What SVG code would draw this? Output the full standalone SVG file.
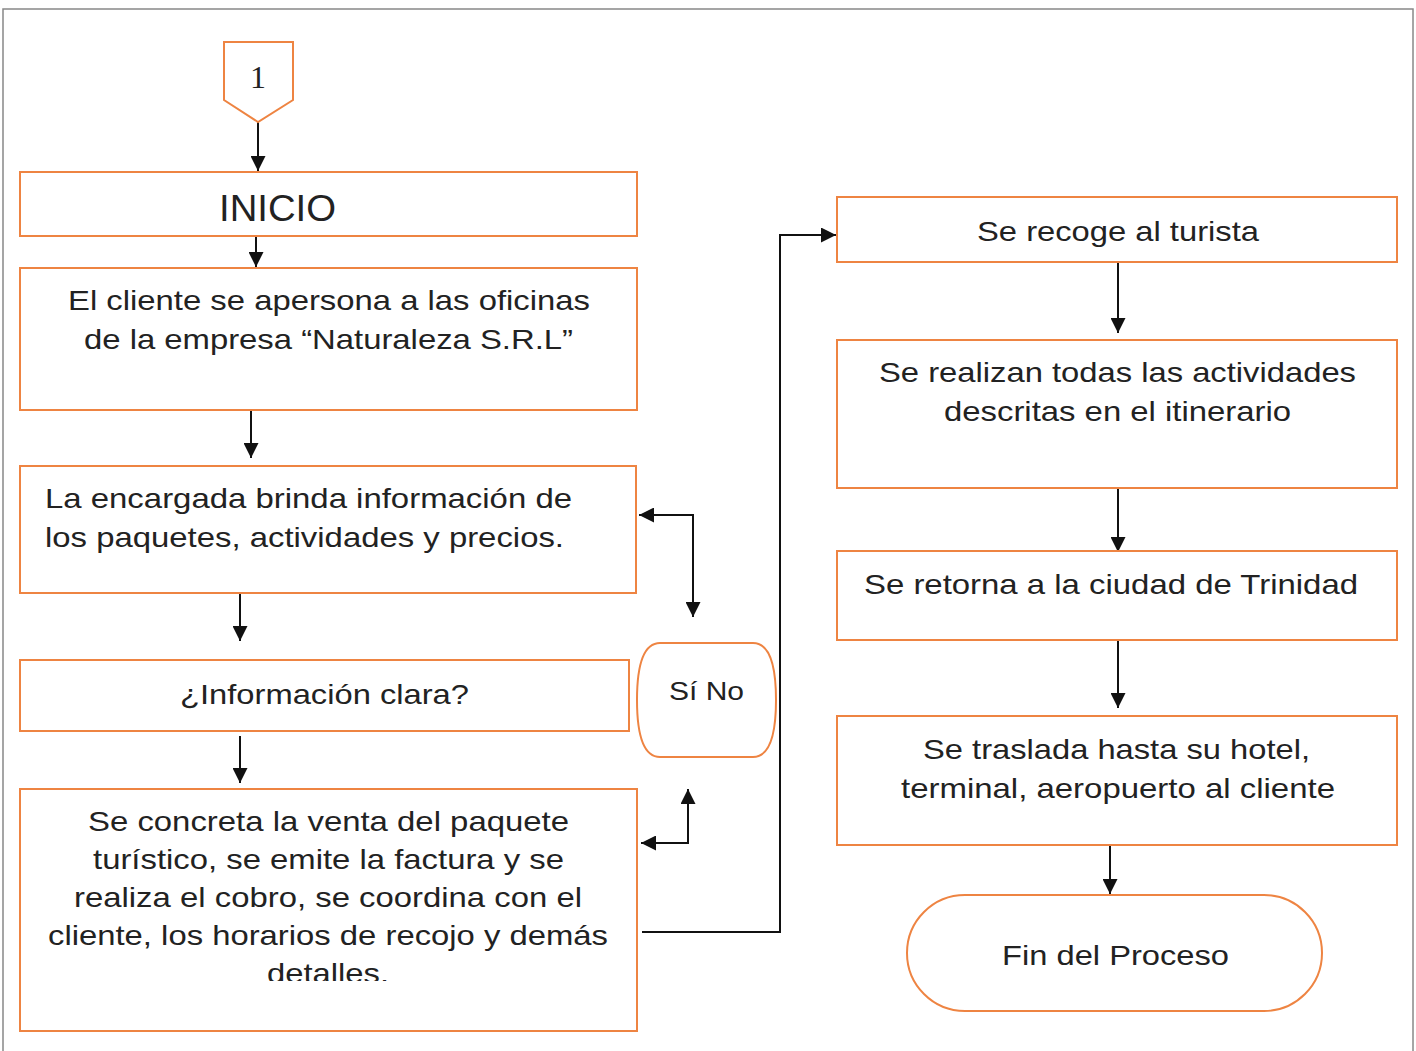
<svg xmlns="http://www.w3.org/2000/svg" width="1416" height="1051" viewBox="0 0 1416 1051">
<defs>
<marker id="ah" viewBox="0 0 10 10" refX="10" refY="5" markerWidth="15" markerHeight="15" markerUnits="userSpaceOnUse" orient="auto-start-reverse">
<path d="M0,0 L10,5 L0,10 Z" fill="#111"/>
</marker>
<clipPath id="clip5"><rect x="20" y="789" width="617" height="192"/></clipPath>
</defs>
<style>
.box{fill:#fff;stroke:#EE8442;stroke-width:2}
.t{font-family:"Liberation Sans",Arial,sans-serif;font-size:28px;fill:#222}
.c{text-anchor:middle}
.ln{fill:none;stroke:#111;stroke-width:2}
</style>
<rect x="0" y="0" width="1416" height="1051" fill="#fff"/>
<rect x="3" y="9" width="1410" height="1060" fill="none" stroke="#888" stroke-width="1.5"/>

<g id="connectors">
<line class="ln" x1="258" y1="122" x2="258" y2="171" marker-end="url(#ah)"/>
<line class="ln" x1="256" y1="236" x2="256" y2="267" marker-end="url(#ah)"/>
<line class="ln" x1="251" y1="410" x2="251" y2="458" marker-end="url(#ah)"/>
<line class="ln" x1="240" y1="593" x2="240" y2="641" marker-end="url(#ah)"/>
<line class="ln" x1="240" y1="736" x2="240" y2="783" marker-end="url(#ah)"/>
<polyline class="ln" points="639,515 693,515 693,617" marker-start="url(#ah)" marker-end="url(#ah)"/>
<polyline class="ln" points="641,843 688,843 688,789" marker-start="url(#ah)" marker-end="url(#ah)"/>
<polyline class="ln" points="642,932 780,932 780,235 836,235" marker-end="url(#ah)"/>
<line class="ln" x1="1118" y1="262" x2="1118" y2="333" marker-end="url(#ah)"/>
<line class="ln" x1="1118" y1="488" x2="1118" y2="552" marker-end="url(#ah)"/>
<line class="ln" x1="1118" y1="640" x2="1118" y2="708" marker-end="url(#ah)"/>
<line class="ln" x1="1110" y1="845" x2="1110" y2="894" marker-end="url(#ah)"/>
</g>

<g id="n1">
<path class="box" d="M224,42 L293,42 L293,100 L258,122 L224,100 Z"/>
<text x="258" y="88" text-anchor="middle" style="font-family:'Liberation Serif',serif;font-size:32px;fill:#222">1</text>
</g>
<g id="inicio">
<rect class="box" x="20" y="172" width="617" height="64"/>
<text class="t c" x="277.5" y="221" style="font-size:37px" textLength="117" lengthAdjust="spacingAndGlyphs">INICIO</text>
</g>
<g id="n2">
<rect class="box" x="20" y="268" width="617" height="142"/>
<text class="t c" x="329" y="310" textLength="522" lengthAdjust="spacingAndGlyphs">El cliente se apersona a las oficinas</text>
<text class="t c" x="328.5" y="349" textLength="489" lengthAdjust="spacingAndGlyphs">de la empresa “Naturaleza S.R.L”</text>
</g>
<g id="n3">
<rect class="box" x="20" y="466" width="616" height="127"/>
<text class="t" x="45" y="508" textLength="527" lengthAdjust="spacingAndGlyphs">La encargada brinda información de</text>
<text class="t" x="45" y="547" textLength="519" lengthAdjust="spacingAndGlyphs">los paquetes, actividades y precios.</text>
</g>
<g id="n4">
<rect class="box" x="20" y="660" width="609" height="71"/>
<text class="t c" x="324.5" y="704" textLength="289" lengthAdjust="spacingAndGlyphs">¿Información clara?</text>
</g>
<g id="n5">
<rect class="box" x="20" y="789" width="617" height="242"/>
<g clip-path="url(#clip5)">
<text class="t c" x="328.5" y="831" textLength="481" lengthAdjust="spacingAndGlyphs">Se concreta la venta del paquete</text>
<text class="t c" x="328.5" y="869" textLength="471" lengthAdjust="spacingAndGlyphs">turístico, se emite la factura y se</text>
<text class="t c" x="328" y="907" textLength="508" lengthAdjust="spacingAndGlyphs">realiza el cobro, se coordina con el</text>
<text class="t c" x="328" y="945" textLength="560" lengthAdjust="spacingAndGlyphs">cliente, los horarios de recojo y demás</text>
<text class="t c" x="328" y="983" textLength="122" lengthAdjust="spacingAndGlyphs">detalles.</text>
</g>
</g>
<g id="sino">
<path class="box" d="M660,643 L753,643 Q776,643 776,700 Q776,757 753,757 L660,757 Q637,757 637,700 Q637,643 660,643 Z"/>
<text class="t c" x="706.5" y="700" style="font-size:26px" textLength="75" lengthAdjust="spacingAndGlyphs">Sí No</text>
</g>
<g id="r1">
<rect class="box" x="837" y="197" width="560" height="65"/>
<text class="t c" x="1118" y="241" textLength="282" lengthAdjust="spacingAndGlyphs">Se recoge al turista</text>
</g>
<g id="r2">
<rect class="box" x="837" y="340" width="560" height="148"/>
<text class="t c" x="1117.5" y="382" textLength="477" lengthAdjust="spacingAndGlyphs">Se realizan todas las actividades</text>
<text class="t c" x="1117.5" y="421" textLength="347" lengthAdjust="spacingAndGlyphs">descritas en el itinerario</text>
</g>
<g id="r3">
<rect class="box" x="837" y="551" width="560" height="89"/>
<text class="t c" x="1111" y="594" textLength="494" lengthAdjust="spacingAndGlyphs">Se retorna a la ciudad de Trinidad</text>
</g>
<g id="r4">
<rect class="box" x="837" y="716" width="560" height="129"/>
<text class="t c" x="1116.5" y="759" textLength="387" lengthAdjust="spacingAndGlyphs">Se traslada hasta su hotel,</text>
<text class="t c" x="1118" y="798" textLength="434" lengthAdjust="spacingAndGlyphs">terminal, aeropuerto al cliente</text>
</g>
<g id="fin">
<rect class="box" x="907" y="895" width="415" height="116" rx="58" ry="58"/>
<text class="t c" x="1115.5" y="965" textLength="227" lengthAdjust="spacingAndGlyphs">Fin del Proceso</text>
</g>
</svg>
